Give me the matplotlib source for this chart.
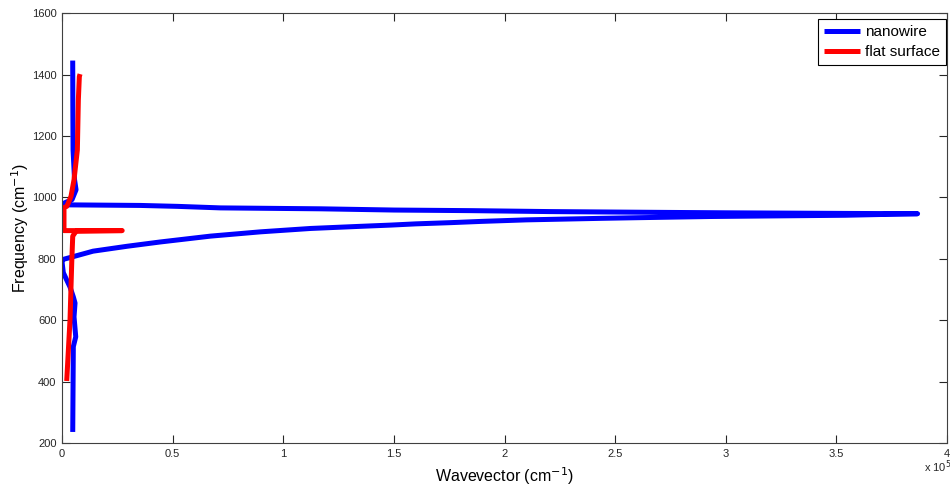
import numpy as np
import matplotlib; matplotlib.use('Agg')
import matplotlib.pyplot as plt

plt.rcParams['font.family'] = ['Liberation Sans', 'DejaVu Sans']

# nanowire dispersion, traced as one path (wavevector in cm^-1, frequency in cm^-1)
nw_k = [4840, 4900, 5000, 5670, 6350, 4530, 1360, 0, 450,
        35360, 52130, 71620, 116950, 150040, 185400, 220300, 258830, 300000, 354000, 386700,
        354000, 293700, 259700, 243900, 209900, 189500, 175900, 160000, 148700, 135100,
        112400, 89750, 67100, 44440, 29470, 14050, 450,
        0, 590, 2130, 3630, 5120, 5890, 5440, 6210, 5120, 4850]
nw_f = [1446, 1300, 1155, 1058, 1025, 993, 983, 977, 976,
        974, 971, 966, 963, 959, 957, 954, 952, 950, 948, 947,
        942, 938, 934, 932, 927, 922, 918, 914, 910, 906,
        899, 888, 874, 855, 841, 825, 798,
        791, 755, 731, 708, 676, 656, 611, 546, 514, 236]

# flat surface dispersion
fs_k = [2130, 3630, 4400, 4850, 6350, 27200, 900, 900, 2130, 2860, 4080, 5440, 6940, 7390, 7840, 8160]
fs_f = [402, 603, 788, 874, 890, 892, 892, 967, 971, 982, 1004, 1058, 1155, 1318, 1394, 1402]

x_ticks = [0, 0.5, 1, 1.5, 2, 2.5, 3, 3.5, 4]
y_ticks = [200, 400, 600, 800, 1000, 1200, 1400, 1600]

fig = plt.figure(figsize=(9.5, 4.88), dpi=100)
ax = fig.add_axes([62 / 950, 45 / 488, 885 / 950, (443 - 13.3) / 488])

ax.plot(nw_k, nw_f, color='#0000ff', lw=3.6, label='nanowire',
        solid_joinstyle='round', solid_capstyle='butt')
ax.plot(fs_k, fs_f, color='#ff0000', lw=3.6, label='flat surface',
        solid_joinstyle='round', solid_capstyle='butt')

ax.set_xlim(0, 4e5)
ax.set_ylim(200, 1600)
ax.set_xticks([t * 1e5 for t in x_ticks])
ax.set_xticklabels([f'{t:g}' for t in x_ticks])
ax.set_yticks(y_ticks)

ax.tick_params(direction='in', length=6, width=0.8, top=True, right=True,
               labelsize=8, colors='#262626', pad=4)
for s in ax.spines.values():
    s.set_color('#404040')
    s.set_linewidth(0.8)

ax.set_xlabel('Wavevector (cm$^{-1}$)', fontsize=11.5, labelpad=5)
ax.set_ylabel('Frequency (cm$^{-1}$)', fontsize=11.5, labelpad=0.5)
fig.text(924 / 950, 1 - 467 / 488, 'x 10$^{5}$', fontsize=8, color='#262626', va='center')

leg = ax.legend(loc='upper right', bbox_to_anchor=(946 / 950, 1 - 19 / 488),
                bbox_transform=fig.transFigure, borderaxespad=0, fancybox=False,
                framealpha=1, edgecolor='black', fontsize=11, handlelength=2.3,
                handletextpad=0.35, borderpad=0.4, labelspacing=0.4)
leg.get_frame().set_linewidth(0.8)

fig.savefig('out.png', dpi=100)
